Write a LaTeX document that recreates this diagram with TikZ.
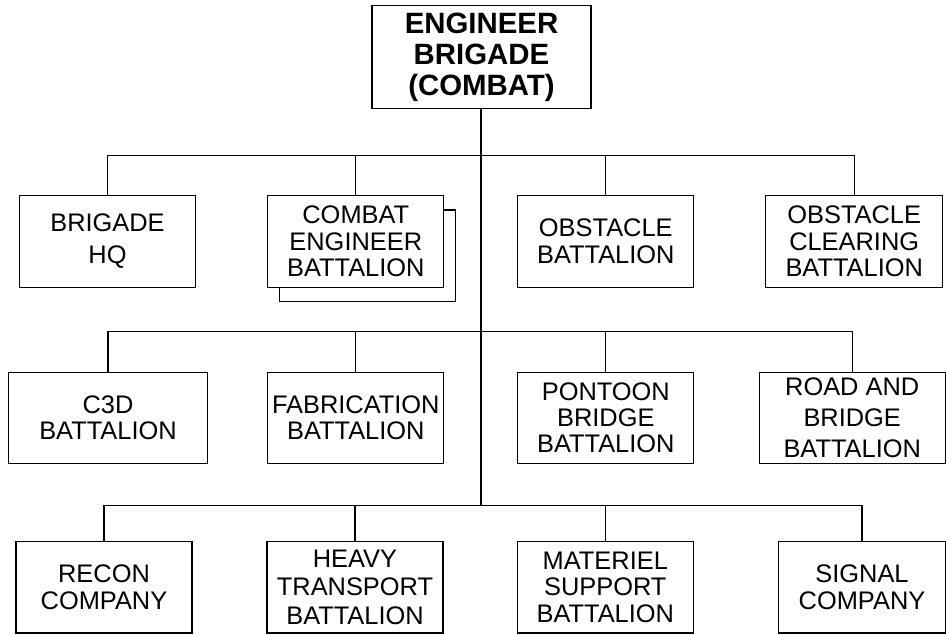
\documentclass[tikz,border=0pt]{standalone}
\usepackage{fontspec}
\setmainfont{Liberation Sans}
\usetikzlibrary{positioning,calc}

\begin{document}
\begin{tikzpicture}[x=1bp,y=-1bp,line width=1.1bp, every node/.style={font=\fontsize{25.5}{26.5}\selectfont}]
\tikzstyle{box}=[draw,fill=white,align=center,inner sep=0pt,minimum width=176bp,minimum height=91.5bp]
\useasboundingbox (0,0) rectangle (946,635);
\node[box,minimum width=219bp,minimum height=103bp,font=\bfseries\fontsize{29.5}{31.5}\selectfont] (brig) at (481.5,57.3) {ENGINEER\\BRIGADE\\(COMBAT)};
\node[box] (hq) at (107.5,241.3) {BRIGADE\\[6bp]HQ};
\node[box] (cebback) at (367.5,255.8) {};
\node[box] (ceb) at (355.8,241.3) {COMBAT\\ENGINEER\\BATTALION};
\node[box] (obs) at (605.8,241.3) {OBSTACLE\\BATTALION};
\node[box,minimum width=177bp] (obc) at (854.2,241.3) {OBSTACLE\\CLEARING\\BATTALION};
\node[box,minimum width=199.4bp] (c3d) at (108,417.8) {C3D\\BATTALION};
\node[box] (fab) at (355.8,417.8) {FABRICATION\\BATTALION};
\node[box] (pon) at (605.8,417.8) {PONTOON\\BRIDGE\\BATTALION};
\node[box,minimum width=185.7bp] (rab) at (852.2,417.8) {ROAD AND\\[5bp]BRIDGE\\[5bp]BATTALION};
\node[box] (rec) at (104,587.2) {RECON\\COMPANY};
\node[box] (hvy) at (355,587.2) {HEAVY\\[2bp]TRANSPORT\\[2bp]BATTALION};
\node[box] (mat) at (605.3,587.2) {MATERIEL\\SUPPORT\\BATTALION};
\node[box,minimum width=167.5bp] (sig) at (862,587.2) {SIGNAL\\COMPANY};
\coordinate (bus1) at (481,155.7);
\coordinate (bus2) at (481,331.7);
\coordinate (bus3) at (481,505.7);
\draw (brig.south -| bus1) -- (bus3);
\draw (hq.north) |- (bus1) -| (obc.north);
\draw (ceb.north) -- (ceb.north |- bus1);
\draw (obs.north) -- (obs.north |- bus1);
\draw (c3d.north) |- (bus2) -| (rab.north);
\draw (fab.north) -- (fab.north |- bus2);
\draw (pon.north) -- (pon.north |- bus2);
\draw (rec.north) |- (bus3) -| (sig.north);
\draw (hvy.north) -- (hvy.north |- bus3);
\draw (mat.north) -- (mat.north |- bus3);
\end{tikzpicture}
\end{document}
